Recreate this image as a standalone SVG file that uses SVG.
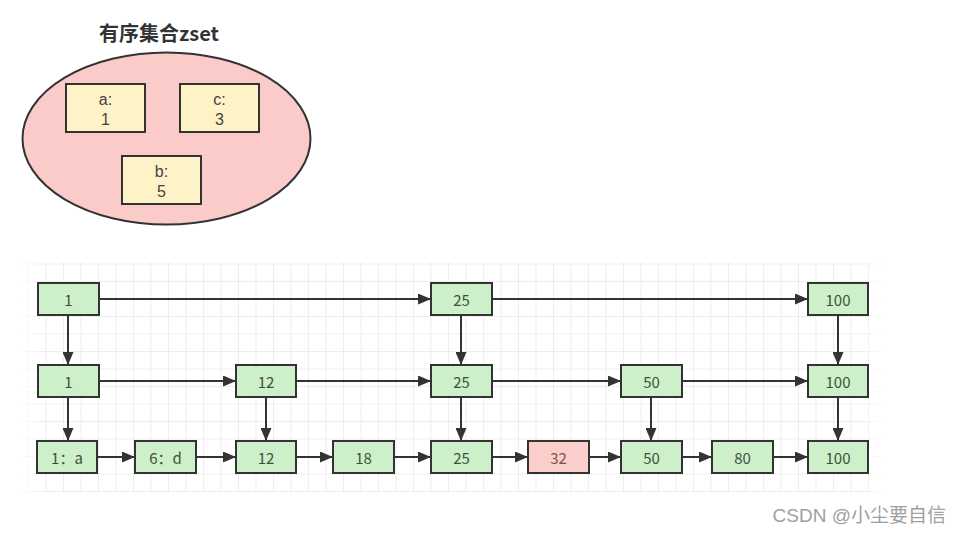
<svg xmlns="http://www.w3.org/2000/svg" width="960" height="534" viewBox="0 0 960 534">
<defs>
<style>
.t{font-family:"Noto Sans CJK SC","Noto Sans",sans-serif;font-size:15px;fill:#3f4f3f;text-anchor:middle;dominant-baseline:central}
.n rect{fill:#cdefc9;stroke:#333;stroke-width:2}
.y rect{fill:#fdf3c6;stroke:#333;stroke-width:2}
.y text{font-family:"Liberation Sans","Noto Sans",sans-serif;font-size:16px;fill:#444;text-anchor:middle;dominant-baseline:central}
.c line{stroke:#333;stroke-width:2}
</style>
<marker id="ah" markerWidth="13" markerHeight="11" refX="13" refY="5.5" orient="auto" markerUnits="userSpaceOnUse">
<path d="M0,0 L13,5.5 L0,11 Z" fill="#333"/>
</marker>
<pattern id="grid" x="10.5" y="1" width="17.5" height="17.5" patternUnits="userSpaceOnUse">
<path d="M17.5,0 L0,0 0,17.5" fill="none" stroke="#dedede" stroke-width="1"/>
</pattern>
<linearGradient id="fade" x1="0" y1="0" x2="1" y2="0">
<stop offset="0" stop-color="#fff" stop-opacity="0"/>
<stop offset="0.03" stop-color="#fff" stop-opacity="1"/>
<stop offset="0.97" stop-color="#fff" stop-opacity="1"/>
<stop offset="1" stop-color="#fff" stop-opacity="0"/>
</linearGradient>
<mask id="gm"><rect x="18" y="262" width="868" height="230" fill="url(#fade)"/></mask>
</defs>
<rect width="960" height="534" fill="#fff"/>
<rect x="18" y="262" width="868" height="230" fill="url(#grid)" mask="url(#gm)"/>

<g id="zset">
<text x="159" y="32" font-family="Noto Sans CJK SC,sans-serif" font-size="20" font-weight="bold" fill="#333" text-anchor="middle" dominant-baseline="central">有序集合zset</text>
<ellipse cx="166.5" cy="138.5" rx="144" ry="86" fill="#fbcbc9" stroke="#333" stroke-width="2"/>
</g>
<g id="za" class="y"><rect x="66" y="84" width="79" height="48"/><text x="105.5" y="99">a:</text><text x="105.5" y="119">1</text></g>
<g id="zc" class="y"><rect x="180" y="84" width="79" height="48"/><text x="219.5" y="99">c:</text><text x="219.5" y="119">3</text></g>
<g id="zb" class="y"><rect x="122" y="156" width="79" height="48"/><text x="161.5" y="171">b:</text><text x="161.5" y="191">5</text></g>

<g id="connectors" class="c">
<line x1="99" y1="299" x2="431" y2="299" marker-end="url(#ah)"/>
<line x1="492" y1="299" x2="808" y2="299" marker-end="url(#ah)"/>
<line x1="99" y1="381" x2="236" y2="381" marker-end="url(#ah)"/>
<line x1="296" y1="381" x2="431" y2="381" marker-end="url(#ah)"/>
<line x1="492" y1="381" x2="621" y2="381" marker-end="url(#ah)"/>
<line x1="682" y1="381" x2="808" y2="381" marker-end="url(#ah)"/>
<line x1="97" y1="457" x2="135" y2="457" marker-end="url(#ah)"/>
<line x1="196" y1="457" x2="236" y2="457" marker-end="url(#ah)"/>
<line x1="296" y1="457" x2="333" y2="457" marker-end="url(#ah)"/>
<line x1="394" y1="457" x2="431" y2="457" marker-end="url(#ah)"/>
<line x1="492" y1="457" x2="528" y2="457" marker-end="url(#ah)"/>
<line x1="589" y1="457" x2="621" y2="457" marker-end="url(#ah)"/>
<line x1="682" y1="457" x2="712" y2="457" marker-end="url(#ah)"/>
<line x1="773" y1="457" x2="808" y2="457" marker-end="url(#ah)"/>
<line x1="68" y1="315" x2="68" y2="365" marker-end="url(#ah)"/>
<line x1="461" y1="315" x2="461" y2="365" marker-end="url(#ah)"/>
<line x1="838" y1="315" x2="838" y2="365" marker-end="url(#ah)"/>
<line x1="68" y1="397" x2="68" y2="441" marker-end="url(#ah)"/>
<line x1="266" y1="397" x2="266" y2="441" marker-end="url(#ah)"/>
<line x1="461" y1="397" x2="461" y2="441" marker-end="url(#ah)"/>
<line x1="651" y1="397" x2="651" y2="441" marker-end="url(#ah)"/>
<line x1="838" y1="397" x2="838" y2="441" marker-end="url(#ah)"/>
</g>

<g id="r1n1" class="n"><rect x="38" y="283" width="61" height="32"/><text class="t" x="68.5" y="299">1</text></g>
<g id="r1n25" class="n"><rect x="431" y="283" width="61" height="32"/><text class="t" x="461.5" y="299">25</text></g>
<g id="r1n100" class="n"><rect x="808" y="283" width="60" height="32"/><text class="t" x="838" y="299">100</text></g>

<g id="r2n1" class="n"><rect x="38" y="365" width="61" height="32"/><text class="t" x="68.5" y="381">1</text></g>
<g id="r2n12" class="n"><rect x="236" y="365" width="60" height="32"/><text class="t" x="266" y="381">12</text></g>
<g id="r2n25" class="n"><rect x="431" y="365" width="61" height="32"/><text class="t" x="461.5" y="381">25</text></g>
<g id="r2n50" class="n"><rect x="621" y="365" width="61" height="32"/><text class="t" x="651.5" y="381">50</text></g>
<g id="r2n100" class="n"><rect x="808" y="365" width="60" height="32"/><text class="t" x="838" y="381">100</text></g>

<g id="r3n1" class="n"><rect x="37" y="441" width="60" height="32"/><text class="t" x="67" y="457">1：a</text></g>
<g id="r3n6" class="n"><rect x="135" y="441" width="61" height="32"/><text class="t" x="165.5" y="457">6：d</text></g>
<g id="r3n12" class="n"><rect x="236" y="441" width="60" height="32"/><text class="t" x="266" y="457">12</text></g>
<g id="r3n18" class="n"><rect x="333" y="441" width="61" height="32"/><text class="t" x="363.5" y="457">18</text></g>
<g id="r3n25" class="n"><rect x="431" y="441" width="61" height="32"/><text class="t" x="461.5" y="457">25</text></g>
<g id="r3n32"><rect x="528" y="441" width="61" height="32" fill="#f9cecb" stroke="#333" stroke-width="2"/><text class="t" x="558.5" y="457" style="fill:#8a4a48">32</text></g>
<g id="r3n50" class="n"><rect x="621" y="441" width="61" height="32"/><text class="t" x="651.5" y="457">50</text></g>
<g id="r3n80" class="n"><rect x="712" y="441" width="61" height="32"/><text class="t" x="742.5" y="457">80</text></g>
<g id="r3n100" class="n"><rect x="808" y="441" width="60" height="32"/><text class="t" x="838" y="457">100</text></g>

<text x="946" y="515" font-family="Liberation Sans,Noto Sans CJK SC,sans-serif" font-size="19" fill="#a0a0a0" text-anchor="end" dominant-baseline="central">CSDN @小尘要自信</text>
</svg>
